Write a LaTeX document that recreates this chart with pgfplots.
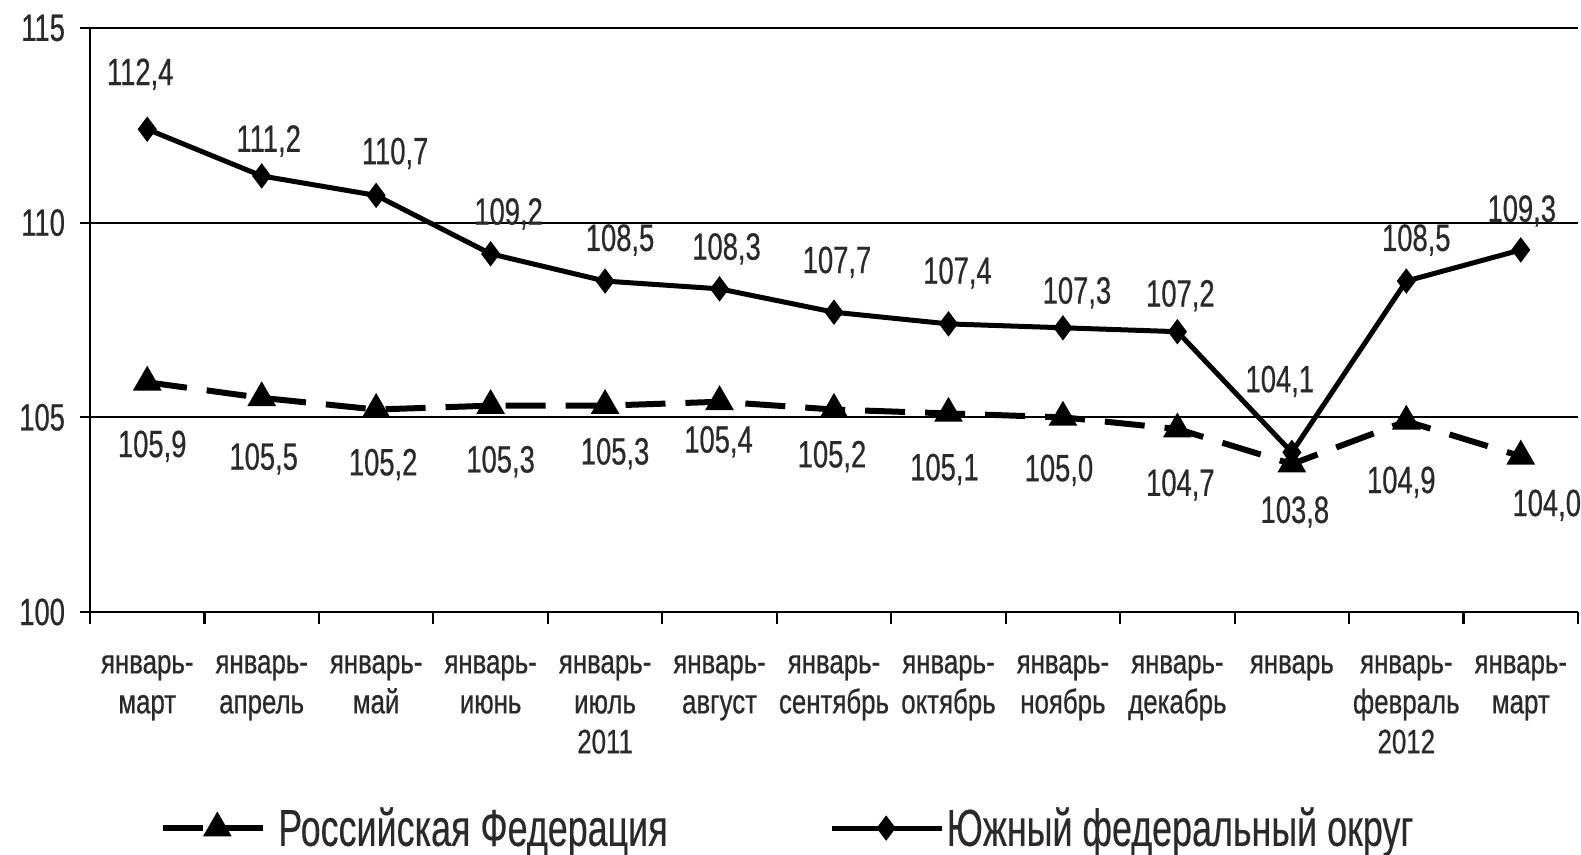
\documentclass[border=0pt]{standalone}
\usepackage{fontspec}
\setmainfont{Liberation Sans}
\newfontfamily\fnum[FakeStretch=0.72,FakeBold=0.6]{Liberation Sans}
\newfontfamily\fcat[FakeStretch=0.76,FakeBold=0.6]{Liberation Sans}
\newfontfamily\fleg[FakeStretch=0.69,FakeBold=0.3]{Liberation Sans}
\usepackage{pgfplots}
\usepackage{pgfplotstable}
\pgfplotsset{compat=1.18}
\definecolor{txt}{HTML}{2A2A2A}

\pgfplotstableread{
x y dx dy
0 105.9 2.5 -32
1 105.5 1 -30.5
2 105.2 3.5 -27.5
3 105.3 5 -28
4 105.3 5 -24
5 105.4 -0.5 -20
6 105.2 -1 -23.5
7 105.1 -2 -28
8 105.0 -2 -26.5
9 104.7 1.5 -28
10 103.8 1.5 -24
11 104.9 -2.5 -30.5
12 104.0 13 -24.5
}\rus

\pgfplotstableread{
x y dx dy
0 112.4 -3.5 27.5
1 111.2 3.5 17.5
2 110.7 9.5 21
3 109.2 9 20
4 108.5 7.5 20.5
5 108.3 3.5 20
6 107.7 1.5 25
7 107.4 4.5 25.5
8 107.3 7 17.5
9 107.2 1.5 18
10 104.1 -6 35.5
11 108.5 5 20.5
12 109.3 0.5 19.5
}\south

\begin{document}
\begin{tikzpicture}
\begin{axis}[
  name=ax,
  scale only axis,
  width=744pt, height=292pt,
  xmin=-0.5, xmax=12.5,
  ymin=100, ymax=115,
  clip=false,
  axis x line*=bottom,
  axis y line*=left,
  axis line style={-, line width=1.4pt, black},
  ytick={100,105,110,115},
  ymajorgrids,
  grid style={black, line width=1.1pt},
  xtick={0,...,12},
  xticklabels={{январь-\\март},{январь-\\апрель},{январь-\\май},{январь-\\июнь},{январь-\\июль\\2011},{январь-\\август},{январь-\\сентябрь},{январь-\\октябрь},{январь-\\ноябрь},{январь-\\декабрь},{январь},{январь-\\февраль\\2012},{январь-\\март}},
  minor xtick={-0.5,0.5,...,12.5},
  tick align=outside,
  major tick length=5pt,
  minor tick length=6pt,
  major x tick style={draw=none},
  minor x tick style={black, line width=1.1pt},
  major y tick style={black, line width=1.1pt},
  /pgf/number format/assume math mode=true,
  yticklabel style={font=\fnum\fontsize{19}{21}\selectfont, text=txt, xshift=-4pt},
  xticklabel style={font=\fcat\fontsize{17}{20}\selectfont, align=center, text=txt, yshift=-13pt},
  legend columns=2,
  legend style={draw=none, fill=none, at={(0.047,-0.37)}, anchor=west,
    inner sep=0pt,
    font=\fleg\fontsize{26}{28}\selectfont, text=txt,
    nodes={inner sep=1pt},
    /tikz/every even column/.append style={column sep=80pt}},
  legend image code/.code={\draw[mark repeat=2,mark phase=2,#1] plot coordinates {(0pt,0pt) (27pt,0pt) (55pt,0pt)};},
]
\addplot[black, line width=3pt, dash pattern=on 20pt off 10pt,
  mark=triangle*, mark size=5.3pt, mark options={solid},
  visualization depends on={\thisrow{dx} \as \dx},
  visualization depends on={\thisrow{dy} \as \dy},
  point meta=y,
  nodes near coords={\pgfmathprintnumber[fixed,fixed zerofill,precision=1,use comma]{\pgfplotspointmeta}},
  every node near coord/.append style={anchor=center, xshift=\dx pt, yshift=\dy pt, font=\fnum\fontsize{19}{21}\selectfont, text=txt},
] table[x=x, y=y] {\rus};
\addlegendentry{Российская Федерация}
\addplot[black, line width=2.5pt, solid,
  mark=diamond*, mark size=4.3pt,
  visualization depends on={\thisrow{dx} \as \dx},
  visualization depends on={\thisrow{dy} \as \dy},
  point meta=y,
  nodes near coords={\pgfmathprintnumber[fixed,fixed zerofill,precision=1,use comma]{\pgfplotspointmeta}},
  every node near coord/.append style={anchor=center, xshift=\dx pt, yshift=\dy pt, font=\fnum\fontsize{19}{21}\selectfont, text=txt},
] table[x=x, y=y] {\south};
\addlegendentry{Южный федеральный округ}
\end{axis}
\pgfresetboundingbox
\path[use as bounding box] ([shift={(-45pt,-121.5pt)}]ax.south west) rectangle ++(790.5pt,427.5pt);
\end{tikzpicture}
\end{document}
